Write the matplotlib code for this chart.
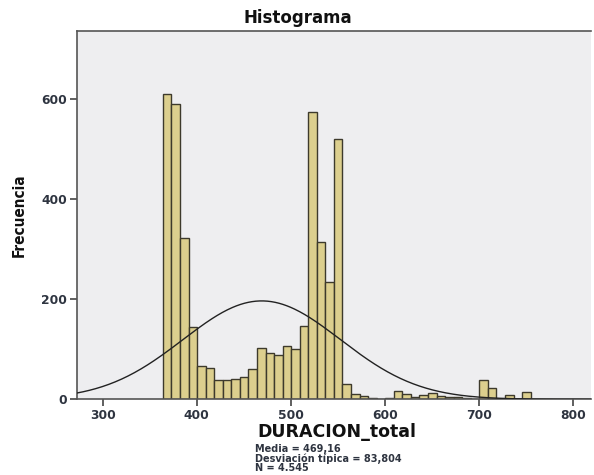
import numpy as np
import matplotlib
matplotlib.use("Agg")
import matplotlib.pyplot as plt

# ---- data ----
bin_start = 364.0
bin_width = 9.1
counts = [610, 590, 322, 144, 67, 63, 39, 39, 40, 45, 61, 103, 92, 88, 107,
          100, 147, 575, 314, 235, 521, 31, 10, 6, 2, 1, 3, 17, 10, 5, 8,
          12, 6, 5, 4, 3, 1, 39, 23, 1, 9, 1, 14]
mean = 469.16
sd = 83.804
n_total = 4545
x_ticks = [300, 400, 500, 600, 700, 800]
y_ticks = [0, 200, 400, 600]
title = "Histograma"
x_label = "DURACION_total"
y_label = "Frecuencia"
stats_lines = ["Media = 469,16", "Desviación típica = 83,804", "N = 4.545"]

fig = plt.figure(figsize=(5.94, 4.75), dpi=100)
ax = fig.add_axes([76.7 / 594, 1 - 399.3 / 475, (591 - 76.7) / 594, (399.3 - 31) / 475])
ax.set_facecolor("#EEEEF0")

edges_left = bin_start + bin_width * np.arange(len(counts))
ax.bar(edges_left, counts, width=bin_width, align="edge",
       color="#DCCF8E", edgecolor="#3d3a2c", linewidth=1.0, zorder=2)

xs = np.linspace(272, 820, 400)
ys = n_total * bin_width / (sd * np.sqrt(2 * np.pi)) * np.exp(-0.5 * ((xs - mean) / sd) ** 2)
ax.plot(xs, ys, color="#222222", linewidth=1.0, zorder=3)

ax.set_xlim(272.3, 819.5)
ax.set_ylim(0, 737)
ax.set_xticks(x_ticks)
ax.set_yticks(y_ticks)
ax.tick_params(axis="both", direction="out", length=5, width=1.2, color="#444444",
               labelsize=8.8, labelcolor="#2e3440", pad=2)
for lab in ax.get_xticklabels() + ax.get_yticklabels():
    lab.set_fontweight("bold")

for s in ["left", "bottom", "top"]:
    ax.spines[s].set_color("#555555")
    ax.spines[s].set_linewidth(1.2)
ax.spines["right"].set_visible(False)

fig.text(298 / 594, 1 - 18 / 475, title, ha="center", va="center",
         fontsize=12, fontweight="bold", color="#111111")
fig.text(337 / 594, 1 - 432 / 475, x_label, ha="center", va="center",
         fontsize=12.5, fontweight="bold", color="#111111")
fig.text(19 / 594, 1 - 215 / 475, y_label, ha="center", va="center", rotation=90,
         fontsize=11, fontweight="bold", color="#111111",
         family="DejaVu Sans", fontstretch="condensed")
fig.text(255 / 594, 1 - 443.5 / 475, "\n".join(stats_lines), ha="left", va="top",
         fontsize=7.0, fontweight="bold", color="#2e3440", linespacing=0.95)

fig.savefig("out.png", dpi=100)
